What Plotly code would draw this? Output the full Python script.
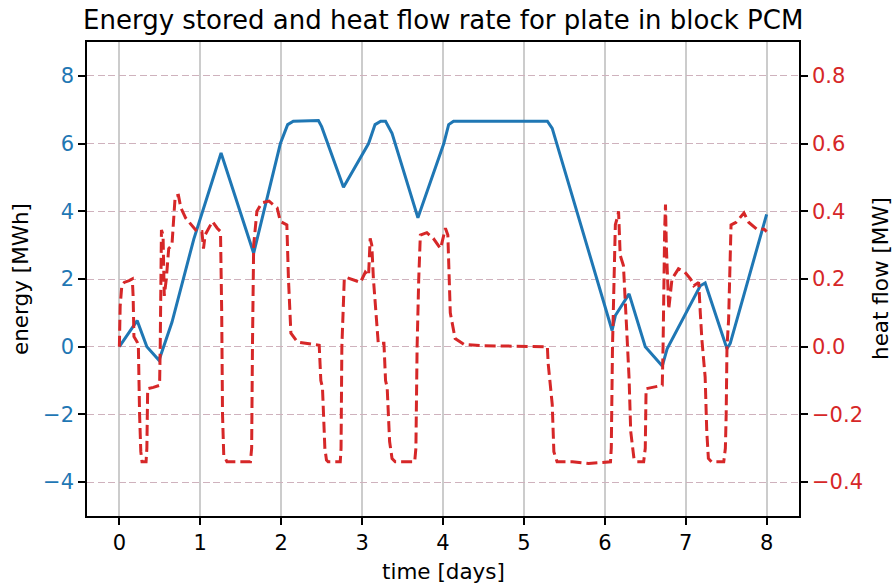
import plotly.graph_objects as go

# ---------------- data ----------------
t_energy = [0, 0.22, 0.34, 0.49, 0.65, 0.92, 1.146, 1.257, 1.66, 1.99, 2.08, 2.15, 2.46,
            2.50, 2.77, 3.08, 3.16, 3.23, 3.29, 3.37, 3.69, 4.01, 4.07, 4.13, 5.29, 5.35,
            6.09, 6.13, 6.30, 6.50, 6.71, 6.77, 7.18, 7.24, 7.51, 7.55, 8.0]
energy = [0, 0.77, 0, -0.40, 0.72, 3.18, 4.88, 5.72, 2.76, 6.0, 6.56, 6.66, 6.68,
          6.5, 4.71, 6.0, 6.56, 6.66, 6.66, 6.3, 3.81, 6.0, 6.56, 6.66, 6.66, 6.45,
          0.48, 0.92, 1.56, 0, -0.57, -0.06, 1.80, 1.88, -0.06, 0.10, 3.91]

t_heat = [0, 0.01, 0.03, 0.06, 0.12, 0.16, 0.17, 0.18, 0.22, 0.235, 0.25, 0.265, 0.28,
          0.33, 0.34, 0.35, 0.42, 0.497, 0.505, 0.51, 0.52, 0.54, 0.555, 0.58, 0.61,
          0.65, 0.67, 0.69, 0.73, 0.76, 0.82, 0.96, 1.02, 1.04, 1.06, 1.15, 1.21, 1.25,
          1.265, 1.275, 1.29, 1.33, 1.62, 1.635, 1.645, 1.66, 1.70, 1.76, 1.85, 1.95,
          1.99, 2.07, 2.09, 2.12, 2.20, 2.32, 2.47, 2.49, 2.51, 2.54, 2.56, 2.58, 2.73,
          2.74, 2.75, 2.78, 2.80, 2.98, 3.04, 3.08, 3.10, 3.12, 3.14, 3.20, 3.27, 3.29,
          3.31, 3.34, 3.37, 3.41, 3.65, 3.665, 3.68, 3.70, 3.72, 3.80, 3.88, 3.97, 4.03,
          4.06, 4.09, 4.15, 4.26, 4.5, 5.29, 5.30, 5.35, 5.37, 5.41, 5.6, 5.8, 6.07,
          6.08, 6.095, 6.12, 6.13, 6.16, 6.17, 6.19, 6.23, 6.27, 6.30, 6.32, 6.36, 6.40,
          6.48, 6.50, 6.51, 6.71, 6.72, 6.74, 6.75, 6.76, 6.79, 6.83, 6.91, 6.99, 7.06,
          7.10, 7.16, 7.18, 7.20, 7.24, 7.26, 7.28, 7.32, 7.47, 7.49, 7.50, 7.51, 7.53,
          7.56, 7.62, 7.68, 7.72, 7.78, 7.88, 7.97, 8.0]
heat = [0, 0.12, 0.18, 0.19, 0.195, 0.2, 0.15, 0.03, 0.014, 0.0, -0.2, -0.31, -0.34,
        -0.34, -0.3, -0.124, -0.12, -0.114, 0.0, 0.25, 0.345, 0.33, 0.15, 0.2, 0.29,
        0.30, 0.38, 0.445, 0.447, 0.41, 0.38, 0.34, 0.34, 0.29, 0.33, 0.37, 0.35, 0.34,
        0.10, -0.20, -0.32, -0.34, -0.34, -0.30, 0.0, 0.30, 0.40, 0.425, 0.43, 0.41,
        0.37, 0.36, 0.20, 0.04, 0.014, 0.01, 0.004, -0.10, -0.12, -0.30, -0.335, -0.34, -0.34,
        -0.30, 0.0, 0.20, 0.205, 0.19, 0.22, 0.21, 0.32, 0.30, 0.20, 0.01, 0.01, -0.10,
        -0.12, -0.28, -0.33, -0.34, -0.34, -0.30, 0.0, 0.20, 0.33, 0.337, 0.32, 0.29, 0.35,
        0.33, 0.10, 0.024, 0.007, 0.003, 0.0, -0.05, -0.17, -0.31, -0.34, -0.34, -0.345, -0.34,
        -0.30, 0.0, 0.30, 0.36, 0.386, 0.40, 0.27, 0.24, 0.053, -0.094, -0.25, -0.33, -0.34,
        -0.34, -0.30, -0.124, -0.114, 0.0, 0.35, 0.42, 0.30, 0.11, 0.20, 0.23, 0.22, 0.20,
        0.18, 0.19, 0.10, 0.02, -0.09, -0.25, -0.33, -0.34, -0.34, -0.30, -0.20, 0.0, 0.08,
        0.36, 0.367, 0.386, 0.395, 0.367, 0.347, 0.347, 0.34]

x_ticks = [0, 1, 2, 3, 4, 5, 6, 7, 8]
y_ticks = [-4, -2, 0, 2, 4, 6, 8]
y_ticklabels = ["\u22124", "\u22122", "0", "2", "4", "6", "8"]
y2_ticks = [-0.4, -0.2, 0.0, 0.2, 0.4, 0.6, 0.8]
y2_ticklabels = ["\u22120.4", "\u22120.2", "0.0", "0.2", "0.4", "0.6", "0.8"]

BLUE = "#1f77b4"
RED = "#d62728"
FONT = "DejaVu Sans"
TICK_SIZE = 21
LABEL_SIZE = 21.5
TITLE_SIZE = 26

fig = go.Figure()
fig.add_trace(go.Scatter(x=t_energy, y=energy, mode="lines", yaxis="y",
                         line=dict(color=BLUE, width=3), showlegend=False))
fig.add_trace(go.Scatter(x=t_heat, y=heat, mode="lines", yaxis="y2",
                         line=dict(color=RED, width=3, dash="11px,5px"), showlegend=False))

axis_common = dict(ticks="outside", ticklen=7, tickwidth=1.6, tickcolor="black",
                   showline=True, linecolor="black", linewidth=1.6, zeroline=False)

fig.update_layout(
    width=896, height=584,
    margin=dict(l=87, r=97, t=42, b=68),
    plot_bgcolor="white", paper_bgcolor="white",
    font=dict(family=FONT, size=TICK_SIZE, color="black"),
    xaxis=dict(range=[-0.4, 8.4], tickvals=x_ticks, mirror=True,
               showgrid=True, gridcolor="#cccccc", gridwidth=1.8,
               tickfont=dict(size=TICK_SIZE, color="black"), **axis_common),
    yaxis=dict(range=[-5, 9], tickvals=y_ticks, ticktext=y_ticklabels,
               showgrid=True, gridcolor="#cfb2bd", gridwidth=1.4, griddash="7px,3.5px",
               tickfont=dict(size=TICK_SIZE, color=BLUE), **axis_common),
    yaxis2=dict(range=[-0.5, 0.9], tickvals=y2_ticks, ticktext=y2_ticklabels,
                overlaying="y", side="right", showgrid=False,
                tickfont=dict(size=TICK_SIZE, color=RED), **axis_common),
    annotations=[
        dict(text="Energy stored and heat flow rate for plate in block PCM",
             x=0.5, y=1, xref="paper", yref="paper", xanchor="center", yanchor="middle",
             yshift=22, showarrow=False, font=dict(size=TITLE_SIZE, color="black")),
        dict(text="time [days]", x=0.5, y=0, xref="paper", yref="paper",
             xanchor="center", yanchor="middle", yshift=-55, showarrow=False,
             font=dict(size=LABEL_SIZE, color="black")),
        dict(text="energy [MWh]", x=0, y=0.5, xref="paper", yref="paper",
             xanchor="center", yanchor="middle", xshift=-67, textangle=-90,
             showarrow=False, font=dict(size=LABEL_SIZE, color="black")),
        dict(text="heat flow [MW]", x=1, y=0.5, xref="paper", yref="paper",
             xanchor="center", yanchor="middle", xshift=81, textangle=-90,
             showarrow=False, font=dict(size=LABEL_SIZE, color="black")),
    ],
)

fig.write_html("out.html")
